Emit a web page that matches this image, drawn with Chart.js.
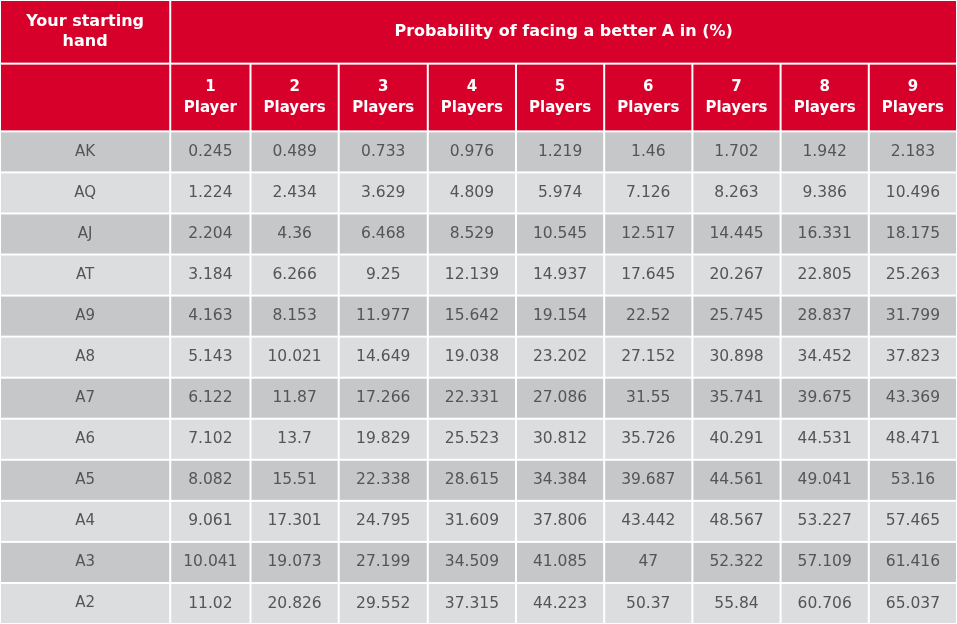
<!DOCTYPE html>
<html><head><meta charset="utf-8">
<script src="https://cdn.jsdelivr.net/npm/chart.js@4"></script>
<style>html,body{margin:0;padding:0;background:#fff}</style>
</head><body>
<canvas id="c" width="957" height="624"></canvas>
<script>
const hands = ["AK","AQ","AJ","AT","A9","A8","A7","A6","A5","A4","A3","A2"];
const playerNums = ["1","2","3","4","5","6","7","8","9"];
const playerWords = ["Player","Players","Players","Players","Players","Players","Players","Players","Players"];
const p1 = [0.245,1.224,2.204,3.184,4.163,5.143,6.122,7.102,8.082,9.061,10.041,11.02];
const p2 = [0.489,2.434,4.36,6.266,8.153,10.021,11.87,13.7,15.51,17.301,19.073,20.826];
const p3 = [0.733,3.629,6.468,9.25,11.977,14.649,17.266,19.829,22.338,24.795,27.199,29.552];
const p4 = [0.976,4.809,8.529,12.139,15.642,19.038,22.331,25.523,28.615,31.609,34.509,37.315];
const p5 = [1.219,5.974,10.545,14.937,19.154,23.202,27.086,30.812,34.384,37.806,41.085,44.223];
const p6 = [1.46,7.126,12.517,17.645,22.52,27.152,31.55,35.726,39.687,43.442,47,50.37];
const p7 = [1.702,8.263,14.445,20.267,25.745,30.898,35.741,40.291,44.561,48.567,52.322,55.84];
const p8 = [1.942,9.386,16.331,22.805,28.837,34.452,39.675,44.531,49.041,53.227,57.109,60.706];
const p9 = [2.183,10.496,18.175,25.263,31.799,37.823,43.369,48.471,53.16,57.465,61.416,65.037];
const series = [p1,p2,p3,p4,p5,p6,p7,p8,p9];
const headerLeft = ["Your starting","hand"];
const headerTitle = "Probability of facing a better A in (%)";

const colEdges = [0,1.93,2.84,3.84,4.85,5.85,6.85,7.85,8.85,9.85,10.85,11.8];
const H1 = 1.55, H2 = 3.2;
const RED = "#d6002a";
const FONT = "'DejaVu Sans', Verdana, sans-serif";

const tablePlugin = {
  id:'table',
  afterDraw(chart){
    const ctx = chart.ctx, xs = chart.scales.x, ys = chart.scales.y;
    const X = v=>xs.getPixelForValue(v), Y = v=>ys.getPixelForValue(v);
    const gap = 1;
    function cell(x0,x1,y0,y1,fill){
      ctx.fillStyle=fill;
      ctx.fillRect(X(x0)+gap, Y(y0)+gap, X(x1)-X(x0)-2*gap, Y(y1)-Y(y0)-2*gap);
    }
    function text(lines,x0,x1,y0,y1,font,color,lh){
      ctx.font=font; ctx.fillStyle=color; ctx.textAlign='center'; ctx.textBaseline='middle';
      const cx=(X(x0)+X(x1))/2, cy=(Y(y0)+Y(y1))/2;
      lines.forEach((l,i)=>ctx.fillText(l,cx,cy+(i-(lines.length-1)/2)*lh));
    }
    ctx.save();
    ctx.fillStyle="#fff"; ctx.fillRect(0,0,chart.width,chart.height);
    cell(colEdges[0],colEdges[1],0,H1,RED);
    cell(colEdges[0],colEdges[1],H1,H2,RED);
    cell(colEdges[1],colEdges[10],0,H1,RED);
    text(headerLeft,colEdges[0],colEdges[1],0,H1,"bold 16px "+FONT,"#fff",20);
    text([headerTitle],colEdges[1],colEdges[10],0,H1,"bold 16px "+FONT,"#fff",20);
    for(let j=0;j<9;j++){
      cell(colEdges[j+1],colEdges[j+2],H1,H2,RED);
      text([playerNums[j],playerWords[j]],colEdges[j+1],colEdges[j+2],H1,H2,"bold 15px "+FONT,"#fff",21);
    }
    hands.forEach((h,i)=>{
      const y0=H2+i, y1=H2+i+1;
      const fill = i%2===0 ? "#c6c7c9" : "#dcdddf";
      cell(colEdges[0],colEdges[1],y0,y1,fill);
      text([h],colEdges[0],colEdges[1],y0,y1,"15px "+FONT,"#555",18);
      series.forEach((s,j)=>{
        cell(colEdges[j+1],colEdges[j+2],y0,y1,fill);
        text([String(s[i])],colEdges[j+1],colEdges[j+2],y0,y1,"15.5px "+FONT,"#555",18);
      });
    });
    ctx.restore();
  }
};

const datasets = series.map((s,j)=>({
  label: playerNums[j],
  data: s.map((v,i)=>({x:(colEdges[j+1]+colEdges[j+2])/2, y:H2+i+0.5, v})),
  pointRadius:0, showLine:false
}));

new Chart(document.getElementById('c'),{
  type:'scatter',
  data:{datasets},
  options:{
    responsive:false, animation:false,
    layout:{padding:0},
    plugins:{legend:{display:false},tooltip:{enabled:false}},
    scales:{
      x:{type:'linear',min:0,max:colEdges[10],display:false},
      y:{type:'linear',min:0,max:H2+hands.length,reverse:true,display:false}
    }
  },
  plugins:[tablePlugin]
});
</script>
</body></html>
